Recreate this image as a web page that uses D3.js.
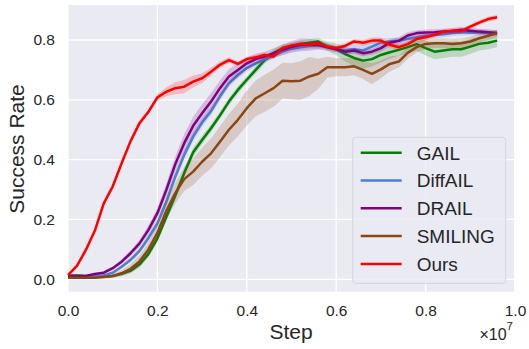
<!DOCTYPE html>
<html>
<head>
<meta charset="utf-8">
<script src="https://cdn.jsdelivr.net/npm/d3@7"></script>
<style>
  body { margin: 0; background: #fff; }
  text { font-family: "Liberation Sans", Arial, sans-serif; fill: #262626; }
</style>
</head>
<body>
<div id="chart"></div>
<script>
// steps in units of 1e7
var steps = [0.00, 0.02, 0.04, 0.06, 0.08, 0.10, 0.12, 0.14, 0.16, 0.18,
             0.20, 0.22, 0.24, 0.26, 0.28, 0.30, 0.32, 0.34, 0.36, 0.38,
             0.40, 0.42, 0.44, 0.46, 0.48, 0.50, 0.52, 0.54, 0.56, 0.58,
             0.60, 0.62, 0.64, 0.66, 0.68, 0.70, 0.72, 0.74, 0.76, 0.78,
             0.80, 0.82, 0.84, 0.86, 0.88, 0.90, 0.92, 0.94, 0.96];

var gail = [0.013, 0.013, 0.011, 0.009, 0.009, 0.011, 0.018, 0.029, 0.05, 0.085,
            0.137, 0.209, 0.28, 0.355, 0.425, 0.466, 0.505, 0.548, 0.594, 0.633,
            0.667, 0.70, 0.733, 0.756, 0.773, 0.778, 0.787, 0.791, 0.795, 0.778,
            0.769, 0.753, 0.74, 0.731, 0.736, 0.75, 0.759, 0.767, 0.776, 0.786,
            0.773, 0.761, 0.765, 0.769, 0.769, 0.778, 0.787, 0.791, 0.798];
var gailStd = [0.003, 0.003, 0.003, 0.003, 0.003, 0.004, 0.006, 0.008, 0.01, 0.012,
               0.014, 0.015, 0.015, 0.015, 0.015, 0.014, 0.013, 0.012, 0.012, 0.012,
               0.012, 0.012, 0.012, 0.012, 0.012, 0.012, 0.012, 0.012, 0.012, 0.015,
               0.02, 0.025, 0.027, 0.027, 0.025, 0.025, 0.022, 0.02, 0.02, 0.022,
               0.025, 0.025, 0.025, 0.025, 0.025, 0.025, 0.022, 0.022, 0.022];

var diffail = [0.009, 0.009, 0.008, 0.009, 0.013, 0.022, 0.042, 0.065, 0.095, 0.138,
               0.187, 0.26, 0.343, 0.416, 0.477, 0.524, 0.562, 0.611, 0.655, 0.683,
               0.706, 0.722, 0.736, 0.747, 0.761, 0.771, 0.776, 0.78, 0.78, 0.778,
               0.769, 0.765, 0.769, 0.765, 0.778, 0.791, 0.795, 0.798, 0.803, 0.809,
               0.814, 0.817, 0.819, 0.823, 0.825, 0.826, 0.825, 0.823, 0.823];
var diffailStd = [0.002, 0.002, 0.002, 0.003, 0.004, 0.005, 0.006, 0.008, 0.01, 0.012,
                  0.012, 0.014, 0.015, 0.015, 0.015, 0.015, 0.014, 0.013, 0.012, 0.012,
                  0.012, 0.01, 0.01, 0.01, 0.01, 0.01, 0.01, 0.01, 0.01, 0.01,
                  0.01, 0.012, 0.015, 0.018, 0.018, 0.015, 0.012, 0.01, 0.01, 0.01,
                  0.01, 0.01, 0.01, 0.01, 0.01, 0.01, 0.01, 0.01, 0.01];

var drail = [0.011, 0.011, 0.011, 0.018, 0.022, 0.037, 0.059, 0.087, 0.12, 0.165,
             0.221, 0.299, 0.385, 0.455, 0.513, 0.555, 0.594, 0.639, 0.678, 0.70,
             0.722, 0.736, 0.745, 0.756, 0.767, 0.777, 0.784, 0.784, 0.784, 0.776,
             0.769, 0.761, 0.765, 0.756, 0.761, 0.773, 0.791, 0.797, 0.815, 0.823,
             0.825, 0.826, 0.828, 0.83, 0.834, 0.831, 0.828, 0.826, 0.823];
var drailStd = [0.003, 0.003, 0.003, 0.004, 0.005, 0.006, 0.008, 0.01, 0.012, 0.015,
                0.018, 0.022, 0.026, 0.03, 0.03, 0.03, 0.028, 0.026, 0.024, 0.022,
                0.02, 0.018, 0.016, 0.016, 0.018, 0.02, 0.022, 0.02, 0.016, 0.012,
                0.01, 0.01, 0.01, 0.01, 0.01, 0.012, 0.012, 0.012, 0.012, 0.01,
                0.01, 0.01, 0.01, 0.01, 0.01, 0.01, 0.01, 0.01, 0.01];

var smiling = [0.005, 0.005, 0.005, 0.005, 0.008, 0.011, 0.02, 0.035, 0.06, 0.10,
               0.155, 0.229, 0.288, 0.335, 0.36, 0.393, 0.421, 0.46, 0.5, 0.533,
               0.572, 0.605, 0.622, 0.639, 0.664, 0.662, 0.664, 0.678, 0.687, 0.709,
               0.709, 0.709, 0.712, 0.70, 0.687, 0.702, 0.72, 0.728, 0.757, 0.776,
               0.787, 0.789, 0.789, 0.787, 0.789, 0.795, 0.806, 0.814, 0.823];
var smilingStd = [0.003, 0.003, 0.003, 0.004, 0.005, 0.006, 0.01, 0.015, 0.02, 0.022,
                  0.025, 0.03, 0.035, 0.04, 0.045, 0.047, 0.05, 0.052, 0.053, 0.055,
                  0.058, 0.06, 0.062, 0.062, 0.06, 0.06, 0.065, 0.065, 0.05, 0.035,
                  0.03, 0.03, 0.03, 0.03, 0.035, 0.03, 0.025, 0.02, 0.02, 0.018,
                  0.016, 0.016, 0.016, 0.016, 0.016, 0.016, 0.016, 0.014, 0.012];

var ours = [0.014, 0.045, 0.098, 0.162, 0.254, 0.31, 0.388, 0.462, 0.522, 0.56,
            0.608, 0.627, 0.639, 0.644, 0.661, 0.672, 0.694, 0.717, 0.733, 0.72,
            0.736, 0.742, 0.75, 0.745, 0.773, 0.782, 0.787, 0.784, 0.789, 0.778,
            0.773, 0.78, 0.795, 0.791, 0.798, 0.798, 0.784, 0.776, 0.786, 0.803,
            0.809, 0.817, 0.828, 0.831, 0.83, 0.845, 0.858, 0.87, 0.876];
var oursStd = [0.005, 0.006, 0.008, 0.008, 0.008, 0.008, 0.008, 0.008, 0.008, 0.008,
               0.01, 0.015, 0.02, 0.022, 0.02, 0.017, 0.013, 0.01, 0.01, 0.008,
               0.008, 0.008, 0.008, 0.008, 0.008, 0.008, 0.008, 0.008, 0.008, 0.008,
               0.008, 0.008, 0.008, 0.01, 0.01, 0.01, 0.01, 0.01, 0.01, 0.01,
               0.01, 0.008, 0.008, 0.008, 0.008, 0.008, 0.008, 0.008, 0.008];

var names = ["GAIL", "DiffAIL", "DRAIL", "SMILING", "Ours"];
var colors = ["#008000", "#4a7fd3", "#800080", "#8b4513", "#ff0000"];
var means = [gail, diffail, drail, smiling, ours];
var stds = [gailStd, diffailStd, drailStd, smilingStd, oursStd];

var xTicks = [0, 0.2, 0.4, 0.6, 0.8, 1.0];
var yTicks = [0, 0.2, 0.4, 0.6, 0.8];

var width = 529, height = 349;
var plot = {left: 68, right: 514, top: 5, bottom: 291.7};

var svg = d3.select("#chart").append("svg")
    .attr("width", width)
    .attr("height", height);

var x = d3.scaleLinear().domain([0, 1.0]).range([plot.left, 515]);
var y = d3.scaleLinear().domain([-0.0415, 0.917]).range([plot.bottom, plot.top]);

// background
svg.append("rect")
    .attr("x", plot.left)
    .attr("y", plot.top)
    .attr("width", plot.right - plot.left)
    .attr("height", plot.bottom - plot.top)
    .attr("fill", "#eaeaf2");

// grid
var grid = svg.append("g");
grid.selectAll(".vgrid")
    .data(xTicks.filter(function(d) { return x(d) <= plot.right; }))
    .enter().append("line")
    .attr("x1", function(d) { return x(d); })
    .attr("x2", function(d) { return x(d); })
    .attr("y1", plot.top)
    .attr("y2", plot.bottom)
    .attr("stroke", "#fff")
    .attr("stroke-width", 1.3);
grid.selectAll(".hgrid")
    .data(yTicks)
    .enter().append("line")
    .attr("x1", plot.left)
    .attr("x2", plot.right)
    .attr("y1", function(d) { return y(d); })
    .attr("y2", function(d) { return y(d); })
    .attr("stroke", "#fff")
    .attr("stroke-width", 1.3);

// axes (labels only)
var xAxis = svg.append("g")
    .attr("transform", "translate(0," + plot.bottom + ")")
    .call(d3.axisBottom(x).tickValues(xTicks).tickFormat(d3.format(".1f")).tickSize(0).tickPadding(13));
var yAxis = svg.append("g")
    .attr("transform", "translate(" + plot.left + ",0)")
    .call(d3.axisLeft(y).tickValues(yTicks).tickFormat(d3.format(".1f")).tickSize(0).tickPadding(13));
[xAxis, yAxis].forEach(function(a) {
    a.select(".domain").remove();
    a.selectAll("text")
        .attr("fill", "#262626")
        .style("font-size", "15.5px")
        .style("font-family", "'Liberation Sans', Arial, sans-serif");
});

// bands + lines
var area = d3.area()
    .x(function(d) { return x(d.x); })
    .y0(function(d) { return y(d.m - d.s); })
    .y1(function(d) { return y(d.m + d.s); });
var line = d3.line()
    .x(function(d) { return x(d.x); })
    .y(function(d) { return y(d.m); });

var series = names.map(function(n, k) {
    return {
        name: n,
        color: colors[k],
        values: steps.map(function(s, i) { return {x: s, m: means[k][i], s: stds[k][i]}; })
    };
});

var plotG = svg.append("g");
series.forEach(function(s) {
    plotG.append("path")
        .attr("d", area(s.values))
        .attr("fill", s.color)
        .attr("fill-opacity", 0.2)
        .attr("stroke", "none");
    plotG.append("path")
        .attr("d", line(s.values))
        .attr("fill", "none")
        .attr("stroke", s.color)
        .attr("stroke-width", 2.5)
        .attr("stroke-linejoin", "round");
});

// axis titles
svg.append("text")
    .attr("x", 291)
    .attr("y", 339)
    .attr("text-anchor", "middle")
    .style("font-size", "21px")
    .text("Step");

svg.append("text")
    .attr("transform", "translate(24,149) rotate(-90)")
    .attr("text-anchor", "middle")
    .style("font-size", "21px")
    .text("Success Rate");

var offset = svg.append("text")
    .attr("x", 513)
    .attr("y", 340)
    .attr("text-anchor", "end")
    .style("font-size", "16px");
offset.append("tspan").text("\u00d710");
offset.append("tspan")
    .attr("dy", -10)
    .style("font-size", "11.5px")
    .text("7");

// legend
var legend = svg.append("g");
legend.append("rect")
    .attr("x", 352.7)
    .attr("y", 137.3)
    .attr("width", 153)
    .attr("height", 146)
    .attr("rx", 3)
    .attr("fill", "#eaeaf2")
    .attr("fill-opacity", 0.8)
    .attr("stroke", "#d4d4dc")
    .attr("stroke-width", 1);

var rows = legend.selectAll(".row")
    .data(series)
    .enter().append("g")
    .attr("transform", function(d, i) { return "translate(0," + (152.7 + i * 27.8) + ")"; });
rows.append("line")
    .attr("x1", 360.7)
    .attr("x2", 401.7)
    .attr("stroke", function(d) { return d.color; })
    .attr("stroke-width", 2.5);
rows.append("text")
    .attr("x", 416.7)
    .attr("dy", "0.36em")
    .style("font-size", "19px")
    .text(function(d) { return d.name; });
</script>
</body>
</html>
